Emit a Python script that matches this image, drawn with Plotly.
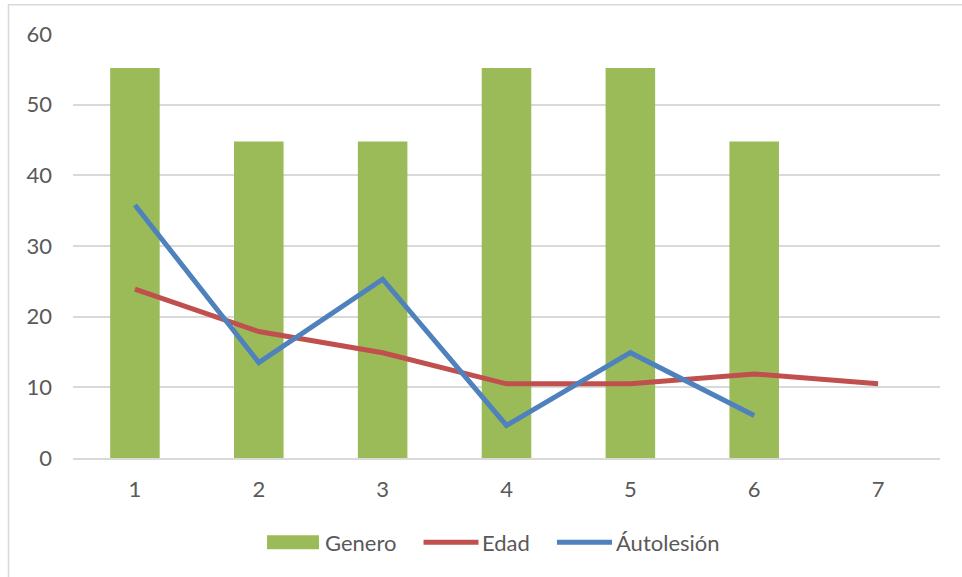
import plotly.graph_objects as go

categories = [1, 2, 3, 4, 5, 6, 7]
genero = [55.2, 44.8, 44.8, 55.2, 55.2, 44.8]
edad = [23.9, 17.9, 14.9, 10.5, 10.5, 11.9, 10.5]
autolesion = [35.8, 13.5, 25.3, 4.6, 14.9, 6.0]
y_ticks = [0, 10, 20, 30, 40, 50, 60]
series_names = ["Genero", "Edad", "Áutolesión"]

GREEN = "#9BBB59"
RED = "#C0504D"
BLUE = "#4F81BD"
TEXT = "#595959"
GRID = "#D9D9D9"
FONT = "Lato, Liberation Sans, sans-serif"
FS = 22

fig = go.Figure()
fig.add_trace(go.Bar(x=categories[:len(genero)], y=genero, name=series_names[0],
                     marker=dict(color=GREEN, line=dict(width=0)), showlegend=False))
fig.add_trace(go.Scatter(x=categories[:len(edad)], y=edad, name=series_names[1], mode="lines",
                         line=dict(color=RED, width=5), showlegend=False))
fig.add_trace(go.Scatter(x=categories[:len(autolesion)], y=autolesion, name=series_names[2],
                         mode="lines", line=dict(color=BLUE, width=5), showlegend=False))

# legend drawn in layout (paper coords) to match reference symbol sizes
leg_y = -0.1988
shapes = [
    dict(type="rect", xref="paper", yref="paper", x0=-0.0744, x1=1.04, y0=-0.32, y1=1.069,
         line=dict(color=GRID, width=1.5), fillcolor="rgba(0,0,0,0)", layer="below"),
    dict(type="rect", xref="paper", yref="paper", x0=0.2238, x1=0.2837, y0=-0.2153, y1=-0.1823,
         line=dict(width=0), fillcolor=GREEN),
    dict(type="line", xref="paper", yref="paper", x0=0.4043, x1=0.4677, y0=leg_y, y1=leg_y,
         line=dict(color=RED, width=5)),
    dict(type="line", xref="paper", yref="paper", x0=0.5582, x1=0.6217, y0=leg_y, y1=leg_y,
         line=dict(color=BLUE, width=5)),
]
leg_text_x = [0.2880, 0.4690, 0.6235]
annotations = [
    dict(text=name, xref="paper", yref="paper", x=xx, y=leg_y, xanchor="left", yanchor="middle",
         showarrow=False, font=dict(family=FONT, size=FS, color=TEXT))
    for name, xx in zip(series_names, leg_text_x)
]

fig.update_layout(
    width=962, height=577,
    margin=dict(l=73, r=22, t=34, b=119),
    paper_bgcolor="white", plot_bgcolor="white",
    font=dict(family=FONT, size=FS, color=TEXT),
    bargap=0.6,
    showlegend=False,
    xaxis=dict(range=[0.5, 7.5], tickmode="array", tickvals=categories,
               ticktext=[str(c) for c in categories], showgrid=False, zeroline=False,
               showline=True, linecolor=GRID, linewidth=1.5, ticks="",
               ticklabelstandoff=11, fixedrange=True),
    yaxis=dict(range=[0, 60], tickmode="array", tickvals=y_ticks,
               ticktext=[str(v) for v in y_ticks], showgrid=True, gridcolor=GRID,
               gridwidth=1.5, zeroline=False, showline=False, ticks="",
               ticklabelstandoff=20, fixedrange=True),
    shapes=shapes,
    annotations=annotations,
)

fig.write_html("out.html")
